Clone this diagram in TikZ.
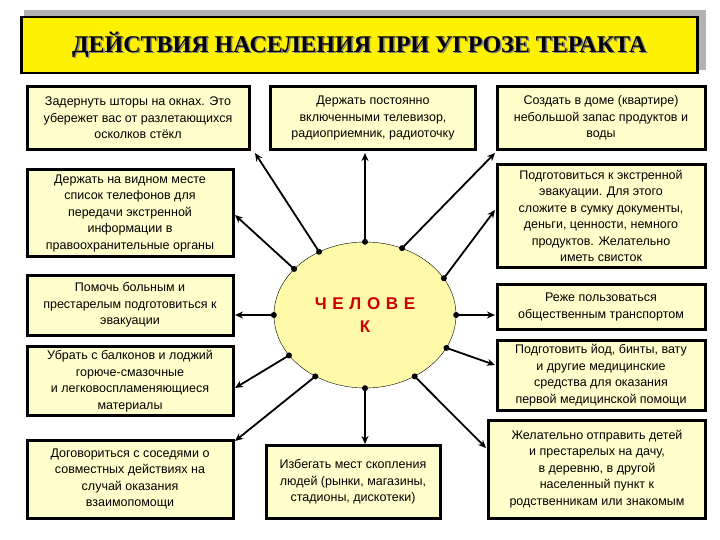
\documentclass[tikz,border=0pt]{standalone}
\usepackage{fontspec}
\setmainfont{Liberation Sans}
\newfontfamily\serifb{Liberation Serif}
\usetikzlibrary{arrows.meta,shapes.geometric}
\begin{document}
\begin{tikzpicture}[x=1pt,y=-1pt,
  box/.style={draw=black,line width=3pt,fill={rgb,255:red,255;green,255;blue,204},align=center,font=\fontsize{12.5}{16.5}\selectfont,inner sep=2pt},
  con/.style={line width=1.8pt,-{Stealth[length=8pt,width=7pt]}},
  dot/.style={circle,fill=black,inner sep=0pt,minimum size=6pt}]
\useasboundingbox (0,0) rectangle (720,540);
% title
\fill[gray!60] (24,10) rectangle (706,70);
\node[draw=black,line width=2.5pt,fill=yellow,minimum width=676pt,minimum height=56pt,anchor=north west,font=\serifb\bfseries\fontsize{24}{26}\selectfont] (t) at (20,16) {\textcolor{gray}{\makebox[0pt][l]{\hspace{1.5pt}\raisebox{-1.5pt}{ДЕЙСТВИЯ НАСЕЛЕНИЯ ПРИ УГРОЗЕ ТЕРАКТА}}}ДЕЙСТВИЯ НАСЕЛЕНИЯ ПРИ УГРОЗЕ ТЕРАКТА};
% center
\node[draw=black,thin,fill={rgb,255:red,255;green,250;blue,170},ellipse,minimum width=182pt,minimum height=146pt,align=center,text=red!80!black,font=\bfseries\fontsize{17}{23}\selectfont] (e) at (365,315) {Ч\,\,Е\,\,Л\,\,О\,\,В\,\,Е\\К};
% boxes
\node[box,minimum width=222pt,minimum height=63pt] (b1) at (138,118) {Задернуть шторы на окнах. Это\\убережет вас от разлетающихся\\осколков стёкл};
\node[box,minimum width=205pt,minimum height=63pt] (b2) at (373,118) {Держать постоянно\\включенными телевизор,\\радиоприемник, радиоточку};
\node[box,minimum width=208pt,minimum height=63pt] (b3) at (601,118) {Создать в доме (квартире)\\небольшой запас продуктов и\\воды};
\node[box,minimum width=206pt,minimum height=87pt] (b4) at (130,213) {Держать на видном месте\\список телефонов для\\передачи экстренной\\информации в\\правоохранительные органы};
\node[box,minimum width=208pt,minimum height=103pt] (b5) at (601,216) {Подготовиться к экстренной\\эвакуации. Для этого\\сложите в сумку документы,\\деньги, ценности, немного\\продуктов. Желательно\\иметь свисток};
\node[box,minimum width=206pt,minimum height=60pt] (b6) at (130,305) {Помочь больным и\\престарелым подготовиться к\\эвакуации};
\node[box,minimum width=208pt,minimum height=45pt] (b7) at (601,307) {Реже пользоваться\\общественным транспортом};
\node[box,minimum width=206pt,minimum height=69pt] (b8) at (130,381) {Убрать с балконов и лоджий\\горюче-смазочные\\и легковоспламеняющиеся\\материалы};
\node[box,minimum width=208pt,minimum height=70pt] (b9) at (601,375) {Подготовить йод, бинты, вату\\и другие медицинские\\средства для оказания\\первой медицинской помощи};
\node[box,minimum width=206pt,minimum height=78pt] (b10) at (130,479) {Договориться с соседями о\\совместных действиях на\\случай оказания\\взаимопомощи};
\node[box,minimum width=174pt,minimum height=73pt] (b11) at (353,482) {Избегать мест скопления\\людей (рынки, магазины,\\стадионы, дискотеки)};
\node[box,minimum width=217pt,minimum height=98pt] (b12) at (597,469) {Желательно отправить детей\\и престарелых на дачу,\\в деревню, в другой\\населенный пункт к\\родственникам или знакомым};
% connectors
\foreach \a/\b/\tx/\ty in {126/b1/255/153, 90/b2/365/153, 61/b3/495/153, 147/b4/235/215, 25/b5/495/210, 180/b6/235/315, 0/b7/495/315, 208/b8/235/388, 338/b9/495/365, 231/b10/235/441, 270/b11/365/444, 309/b12/486/448}{
  \coordinate (p\b) at (\tx,\ty);
  \node[dot] (d\b) at (e.\a) {};
  \draw[con] (d\b.center) -- (p\b);
}
\end{tikzpicture}
\end{document}
